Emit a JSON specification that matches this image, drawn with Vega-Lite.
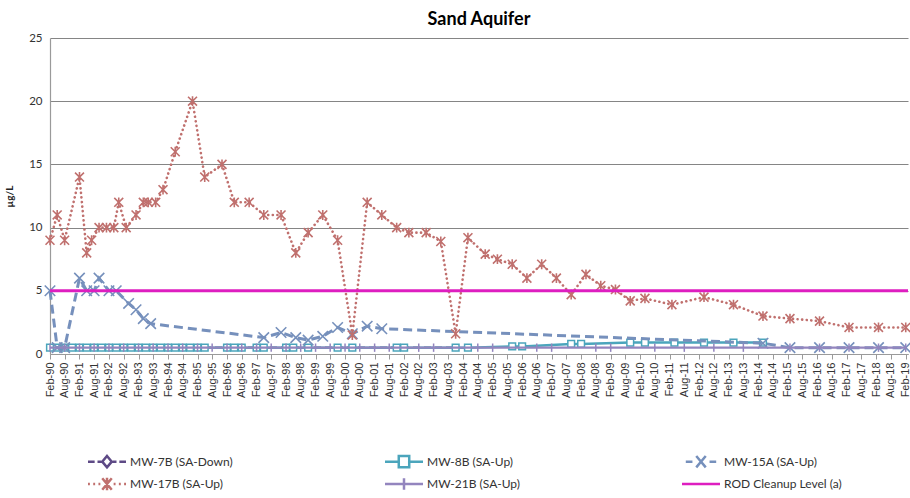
{
  "$schema": "https://vega.github.io/schema/vega-lite/v6.json",
  "autosize": {"type": "none"},
  "width": 858,
  "height": 316,
  "padding": {"left": 50, "top": 38, "right": 2, "bottom": 144},
  "background": "white",
  "title": {"text": "Sand Aquifer", "font": "Lato", "fontSize": 18, "fontWeight": "bold", "color": "#000000", "anchor": "middle", "frame": "group", "baseline": "alphabetic", "offset": 12, "dy": 23},
  "config": {"view": {"stroke": null}},
  "datasets": {
    "pts": [
      {"s": "MW-7B (SA-Down)", "d": "1990/02/01", "v": 0.5},
      {"s": "MW-7B (SA-Down)", "d": "1990/05/01", "v": 0.5},
      {"s": "MW-7B (SA-Down)", "d": "1990/08/01", "v": 0.5},
      {"s": "MW-7B (SA-Down)", "d": "2000/05/01", "v": 0.5},
      {"s": "MW-7B (SA-Down)", "d": "2003/11/01", "v": 0.5},

      {"s": "MW-8B (SA-Up)", "d": "1990/02/01", "v": 0.5},
      {"s": "MW-8B (SA-Up)", "d": "1990/05/01", "v": 0.5},
      {"s": "MW-8B (SA-Up)", "d": "1990/08/01", "v": 0.5},
      {"s": "MW-8B (SA-Up)", "d": "1990/11/01", "v": 0.5},
      {"s": "MW-8B (SA-Up)", "d": "1991/02/01", "v": 0.5},
      {"s": "MW-8B (SA-Up)", "d": "1991/05/01", "v": 0.5},
      {"s": "MW-8B (SA-Up)", "d": "1991/08/01", "v": 0.5},
      {"s": "MW-8B (SA-Up)", "d": "1991/11/01", "v": 0.5},
      {"s": "MW-8B (SA-Up)", "d": "1992/02/01", "v": 0.5},
      {"s": "MW-8B (SA-Up)", "d": "1992/05/01", "v": 0.5},
      {"s": "MW-8B (SA-Up)", "d": "1992/08/01", "v": 0.5},
      {"s": "MW-8B (SA-Up)", "d": "1992/11/01", "v": 0.5},
      {"s": "MW-8B (SA-Up)", "d": "1993/02/01", "v": 0.5},
      {"s": "MW-8B (SA-Up)", "d": "1993/05/01", "v": 0.5},
      {"s": "MW-8B (SA-Up)", "d": "1993/08/01", "v": 0.5},
      {"s": "MW-8B (SA-Up)", "d": "1993/11/01", "v": 0.5},
      {"s": "MW-8B (SA-Up)", "d": "1994/02/01", "v": 0.5},
      {"s": "MW-8B (SA-Up)", "d": "1994/05/01", "v": 0.5},
      {"s": "MW-8B (SA-Up)", "d": "1994/08/01", "v": 0.5},
      {"s": "MW-8B (SA-Up)", "d": "1994/11/01", "v": 0.5},
      {"s": "MW-8B (SA-Up)", "d": "1995/02/01", "v": 0.5},
      {"s": "MW-8B (SA-Up)", "d": "1995/05/01", "v": 0.5},
      {"s": "MW-8B (SA-Up)", "d": "1996/02/01", "v": 0.5},
      {"s": "MW-8B (SA-Up)", "d": "1996/05/01", "v": 0.5},
      {"s": "MW-8B (SA-Up)", "d": "1996/08/01", "v": 0.5},
      {"s": "MW-8B (SA-Up)", "d": "1997/02/01", "v": 0.5},
      {"s": "MW-8B (SA-Up)", "d": "1997/05/01", "v": 0.5},
      {"s": "MW-8B (SA-Up)", "d": "1998/02/01", "v": 0.5},
      {"s": "MW-8B (SA-Up)", "d": "1998/05/01", "v": 0.5},
      {"s": "MW-8B (SA-Up)", "d": "1998/11/01", "v": 0.5},
      {"s": "MW-8B (SA-Up)", "d": "1999/11/01", "v": 0.5},
      {"s": "MW-8B (SA-Up)", "d": "2000/05/01", "v": 0.5},
      {"s": "MW-8B (SA-Up)", "d": "2001/11/01", "v": 0.5},
      {"s": "MW-8B (SA-Up)", "d": "2002/02/01", "v": 0.5},
      {"s": "MW-8B (SA-Up)", "d": "2003/11/01", "v": 0.5},
      {"s": "MW-8B (SA-Up)", "d": "2004/04/01", "v": 0.5},
      {"s": "MW-8B (SA-Up)", "d": "2005/10/01", "v": 0.6},
      {"s": "MW-8B (SA-Up)", "d": "2006/02/01", "v": 0.6},
      {"s": "MW-8B (SA-Up)", "d": "2007/10/01", "v": 0.8},
      {"s": "MW-8B (SA-Up)", "d": "2008/02/01", "v": 0.8},
      {"s": "MW-8B (SA-Up)", "d": "2009/10/01", "v": 0.9},
      {"s": "MW-8B (SA-Up)", "d": "2010/04/01", "v": 0.9},
      {"s": "MW-8B (SA-Up)", "d": "2011/04/01", "v": 0.9},
      {"s": "MW-8B (SA-Up)", "d": "2012/04/01", "v": 0.9},
      {"s": "MW-8B (SA-Up)", "d": "2013/04/01", "v": 0.9},
      {"s": "MW-8B (SA-Up)", "d": "2014/04/01", "v": 0.9},

      {"s": "MW-15A (SA-Up)", "d": "1990/02/01", "v": 5},
      {"s": "MW-15A (SA-Up)", "d": "1990/05/01", "v": 0.5},
      {"s": "MW-15A (SA-Up)", "d": "1990/08/01", "v": 0.5},
      {"s": "MW-15A (SA-Up)", "d": "1991/02/01", "v": 6},
      {"s": "MW-15A (SA-Up)", "d": "1991/05/01", "v": 5},
      {"s": "MW-15A (SA-Up)", "d": "1991/08/01", "v": 5},
      {"s": "MW-15A (SA-Up)", "d": "1991/10/01", "v": 6},
      {"s": "MW-15A (SA-Up)", "d": "1992/02/01", "v": 5},
      {"s": "MW-15A (SA-Up)", "d": "1992/05/01", "v": 5},
      {"s": "MW-15A (SA-Up)", "d": "1992/10/01", "v": 4.0},
      {"s": "MW-15A (SA-Up)", "d": "1993/01/01", "v": 3.5},
      {"s": "MW-15A (SA-Up)", "d": "1993/04/01", "v": 2.8},
      {"s": "MW-15A (SA-Up)", "d": "1993/07/01", "v": 2.4},
      {"s": "MW-15A (SA-Up)", "d": "1997/05/01", "v": 1.3},
      {"s": "MW-15A (SA-Up)", "d": "1997/12/01", "v": 1.7},
      {"s": "MW-15A (SA-Up)", "d": "1998/06/01", "v": 1.3},
      {"s": "MW-15A (SA-Up)", "d": "1998/11/01", "v": 1.1},
      {"s": "MW-15A (SA-Up)", "d": "1999/05/01", "v": 1.4},
      {"s": "MW-15A (SA-Up)", "d": "1999/11/01", "v": 2.1},
      {"s": "MW-15A (SA-Up)", "d": "2000/05/01", "v": 1.6},
      {"s": "MW-15A (SA-Up)", "d": "2000/11/01", "v": 2.2},
      {"s": "MW-15A (SA-Up)", "d": "2001/05/01", "v": 2.0},
      {"s": "MW-15A (SA-Up)", "d": "2014/04/01", "v": 0.85},
      {"s": "MW-15A (SA-Up)", "d": "2015/03/01", "v": 0.5},
      {"s": "MW-15A (SA-Up)", "d": "2016/03/01", "v": 0.5},
      {"s": "MW-15A (SA-Up)", "d": "2017/03/01", "v": 0.5},
      {"s": "MW-15A (SA-Up)", "d": "2018/03/01", "v": 0.5},
      {"s": "MW-15A (SA-Up)", "d": "2019/02/01", "v": 0.5},

      {"s": "MW-17B (SA-Up)", "d": "1990/02/01", "v": 9},
      {"s": "MW-17B (SA-Up)", "d": "1990/05/01", "v": 11},
      {"s": "MW-17B (SA-Up)", "d": "1990/08/01", "v": 9},
      {"s": "MW-17B (SA-Up)", "d": "1991/02/01", "v": 14},
      {"s": "MW-17B (SA-Up)", "d": "1991/05/01", "v": 8},
      {"s": "MW-17B (SA-Up)", "d": "1991/07/01", "v": 9},
      {"s": "MW-17B (SA-Up)", "d": "1991/10/01", "v": 10},
      {"s": "MW-17B (SA-Up)", "d": "1992/01/01", "v": 10},
      {"s": "MW-17B (SA-Up)", "d": "1992/04/01", "v": 10},
      {"s": "MW-17B (SA-Up)", "d": "1992/06/01", "v": 12},
      {"s": "MW-17B (SA-Up)", "d": "1992/09/01", "v": 10},
      {"s": "MW-17B (SA-Up)", "d": "1993/01/01", "v": 11},
      {"s": "MW-17B (SA-Up)", "d": "1993/04/01", "v": 12},
      {"s": "MW-17B (SA-Up)", "d": "1993/06/01", "v": 12},
      {"s": "MW-17B (SA-Up)", "d": "1993/09/01", "v": 12},
      {"s": "MW-17B (SA-Up)", "d": "1993/12/01", "v": 13},
      {"s": "MW-17B (SA-Up)", "d": "1994/05/01", "v": 16},
      {"s": "MW-17B (SA-Up)", "d": "1994/12/01", "v": 20},
      {"s": "MW-17B (SA-Up)", "d": "1995/05/01", "v": 14},
      {"s": "MW-17B (SA-Up)", "d": "1995/12/01", "v": 15},
      {"s": "MW-17B (SA-Up)", "d": "1996/05/01", "v": 12},
      {"s": "MW-17B (SA-Up)", "d": "1996/11/01", "v": 12},
      {"s": "MW-17B (SA-Up)", "d": "1997/05/01", "v": 11},
      {"s": "MW-17B (SA-Up)", "d": "1997/12/01", "v": 11},
      {"s": "MW-17B (SA-Up)", "d": "1998/06/01", "v": 8},
      {"s": "MW-17B (SA-Up)", "d": "1998/11/01", "v": 9.6},
      {"s": "MW-17B (SA-Up)", "d": "1999/05/01", "v": 11},
      {"s": "MW-17B (SA-Up)", "d": "1999/11/01", "v": 9},
      {"s": "MW-17B (SA-Up)", "d": "2000/05/01", "v": 1.5},
      {"s": "MW-17B (SA-Up)", "d": "2000/11/01", "v": 12},
      {"s": "MW-17B (SA-Up)", "d": "2001/05/01", "v": 11},
      {"s": "MW-17B (SA-Up)", "d": "2001/11/01", "v": 10},
      {"s": "MW-17B (SA-Up)", "d": "2002/04/01", "v": 9.6},
      {"s": "MW-17B (SA-Up)", "d": "2002/11/01", "v": 9.6},
      {"s": "MW-17B (SA-Up)", "d": "2003/05/01", "v": 8.9},
      {"s": "MW-17B (SA-Up)", "d": "2003/11/01", "v": 1.6},
      {"s": "MW-17B (SA-Up)", "d": "2004/04/01", "v": 9.2},
      {"s": "MW-17B (SA-Up)", "d": "2004/11/01", "v": 7.9},
      {"s": "MW-17B (SA-Up)", "d": "2005/04/01", "v": 7.5},
      {"s": "MW-17B (SA-Up)", "d": "2005/10/01", "v": 7.1},
      {"s": "MW-17B (SA-Up)", "d": "2006/04/01", "v": 6},
      {"s": "MW-17B (SA-Up)", "d": "2006/10/01", "v": 7.1},
      {"s": "MW-17B (SA-Up)", "d": "2007/04/01", "v": 6},
      {"s": "MW-17B (SA-Up)", "d": "2007/10/01", "v": 4.7},
      {"s": "MW-17B (SA-Up)", "d": "2008/04/01", "v": 6.3},
      {"s": "MW-17B (SA-Up)", "d": "2008/10/01", "v": 5.4},
      {"s": "MW-17B (SA-Up)", "d": "2009/04/01", "v": 5.1},
      {"s": "MW-17B (SA-Up)", "d": "2009/10/01", "v": 4.2},
      {"s": "MW-17B (SA-Up)", "d": "2010/04/01", "v": 4.4},
      {"s": "MW-17B (SA-Up)", "d": "2011/03/01", "v": 3.9},
      {"s": "MW-17B (SA-Up)", "d": "2012/04/01", "v": 4.5},
      {"s": "MW-17B (SA-Up)", "d": "2013/04/01", "v": 3.9},
      {"s": "MW-17B (SA-Up)", "d": "2014/04/01", "v": 3.0},
      {"s": "MW-17B (SA-Up)", "d": "2015/03/01", "v": 2.8},
      {"s": "MW-17B (SA-Up)", "d": "2016/03/01", "v": 2.6},
      {"s": "MW-17B (SA-Up)", "d": "2017/03/01", "v": 2.1},
      {"s": "MW-17B (SA-Up)", "d": "2018/03/01", "v": 2.1},
      {"s": "MW-17B (SA-Up)", "d": "2019/02/01", "v": 2.1},

      {"s": "MW-21B (SA-Up)", "d": "1990/02/01", "v": 0.5},
      {"s": "MW-21B (SA-Up)", "d": "1990/08/01", "v": 0.5},
      {"s": "MW-21B (SA-Up)", "d": "1991/02/01", "v": 0.5},
      {"s": "MW-21B (SA-Up)", "d": "1991/08/01", "v": 0.5},
      {"s": "MW-21B (SA-Up)", "d": "1992/02/01", "v": 0.5},
      {"s": "MW-21B (SA-Up)", "d": "1992/08/01", "v": 0.5},
      {"s": "MW-21B (SA-Up)", "d": "1993/02/01", "v": 0.5},
      {"s": "MW-21B (SA-Up)", "d": "1993/08/01", "v": 0.5},
      {"s": "MW-21B (SA-Up)", "d": "1994/02/01", "v": 0.5},
      {"s": "MW-21B (SA-Up)", "d": "1994/08/01", "v": 0.5},
      {"s": "MW-21B (SA-Up)", "d": "1995/02/01", "v": 0.5},
      {"s": "MW-21B (SA-Up)", "d": "1995/08/01", "v": 0.5},
      {"s": "MW-21B (SA-Up)", "d": "1996/02/01", "v": 0.5},
      {"s": "MW-21B (SA-Up)", "d": "1996/08/01", "v": 0.5},
      {"s": "MW-21B (SA-Up)", "d": "1997/02/01", "v": 0.5},
      {"s": "MW-21B (SA-Up)", "d": "1997/08/01", "v": 0.5},
      {"s": "MW-21B (SA-Up)", "d": "1998/02/01", "v": 0.5},
      {"s": "MW-21B (SA-Up)", "d": "1998/08/01", "v": 0.5},
      {"s": "MW-21B (SA-Up)", "d": "1999/02/01", "v": 0.5},
      {"s": "MW-21B (SA-Up)", "d": "1999/08/01", "v": 0.5},
      {"s": "MW-21B (SA-Up)", "d": "2000/02/01", "v": 0.5},
      {"s": "MW-21B (SA-Up)", "d": "2000/08/01", "v": 0.5},
      {"s": "MW-21B (SA-Up)", "d": "2001/02/01", "v": 0.5},
      {"s": "MW-21B (SA-Up)", "d": "2001/08/01", "v": 0.5},
      {"s": "MW-21B (SA-Up)", "d": "2002/08/01", "v": 0.5},
      {"s": "MW-21B (SA-Up)", "d": "2003/02/01", "v": 0.5},
      {"s": "MW-21B (SA-Up)", "d": "2004/08/01", "v": 0.5},
      {"s": "MW-21B (SA-Up)", "d": "2005/02/01", "v": 0.5},
      {"s": "MW-21B (SA-Up)", "d": "2006/08/01", "v": 0.5},
      {"s": "MW-21B (SA-Up)", "d": "2007/02/01", "v": 0.5},
      {"s": "MW-21B (SA-Up)", "d": "2008/08/01", "v": 0.5},
      {"s": "MW-21B (SA-Up)", "d": "2009/02/01", "v": 0.5},
      {"s": "MW-21B (SA-Up)", "d": "2010/08/01", "v": 0.5},
      {"s": "MW-21B (SA-Up)", "d": "2011/08/01", "v": 0.5},
      {"s": "MW-21B (SA-Up)", "d": "2012/08/01", "v": 0.5},
      {"s": "MW-21B (SA-Up)", "d": "2013/08/01", "v": 0.5},
      {"s": "MW-21B (SA-Up)", "d": "2015/03/01", "v": 0.5},
      {"s": "MW-21B (SA-Up)", "d": "2016/03/01", "v": 0.5},
      {"s": "MW-21B (SA-Up)", "d": "2017/03/01", "v": 0.5},
      {"s": "MW-21B (SA-Up)", "d": "2018/03/01", "v": 0.5},
      {"s": "MW-21B (SA-Up)", "d": "2019/02/01", "v": 0.5},

      {"s": "ROD Cleanup Level (a)", "d": "1990/02/01", "v": 5},
      {"s": "ROD Cleanup Level (a)", "d": "2019/03/01", "v": 5}
    ]
  },
  "data": {"name": "pts"},
  "encoding": {
    "x": {
      "field": "d", "type": "temporal",
      "scale": {"domain": [{"year": 1990, "month": 2, "date": 1}, {"year": 2019, "month": 3, "date": 1}]},
      "axis": {
        "title": null, "format": "%b-%y", "labelAngle": 270, "labelFont": "Liberation Sans", "labelFontSize": 11, "labelColor": "#333333",
        "labelPadding": 3, "labelOverlap": false, "labelFlush": false, "labelBound": false,
        "grid": false, "domainColor": "#9a9a9a", "domainWidth": 1.2, "tickColor": "#9a9a9a", "tickSize": 5,
        "values": [
          {"year": 1990, "month": 2, "date": 1}, {"year": 1990, "month": 8, "date": 1},
          {"year": 1991, "month": 2, "date": 1}, {"year": 1991, "month": 8, "date": 1},
          {"year": 1992, "month": 2, "date": 1}, {"year": 1992, "month": 8, "date": 1},
          {"year": 1993, "month": 2, "date": 1}, {"year": 1993, "month": 8, "date": 1},
          {"year": 1994, "month": 2, "date": 1}, {"year": 1994, "month": 8, "date": 1},
          {"year": 1995, "month": 2, "date": 1}, {"year": 1995, "month": 8, "date": 1},
          {"year": 1996, "month": 2, "date": 1}, {"year": 1996, "month": 8, "date": 1},
          {"year": 1997, "month": 2, "date": 1}, {"year": 1997, "month": 8, "date": 1},
          {"year": 1998, "month": 2, "date": 1}, {"year": 1998, "month": 8, "date": 1},
          {"year": 1999, "month": 2, "date": 1}, {"year": 1999, "month": 8, "date": 1},
          {"year": 2000, "month": 2, "date": 1}, {"year": 2000, "month": 8, "date": 1},
          {"year": 2001, "month": 2, "date": 1}, {"year": 2001, "month": 8, "date": 1},
          {"year": 2002, "month": 2, "date": 1}, {"year": 2002, "month": 8, "date": 1},
          {"year": 2003, "month": 2, "date": 1}, {"year": 2003, "month": 8, "date": 1},
          {"year": 2004, "month": 2, "date": 1}, {"year": 2004, "month": 8, "date": 1},
          {"year": 2005, "month": 2, "date": 1}, {"year": 2005, "month": 8, "date": 1},
          {"year": 2006, "month": 2, "date": 1}, {"year": 2006, "month": 8, "date": 1},
          {"year": 2007, "month": 2, "date": 1}, {"year": 2007, "month": 8, "date": 1},
          {"year": 2008, "month": 2, "date": 1}, {"year": 2008, "month": 8, "date": 1},
          {"year": 2009, "month": 2, "date": 1}, {"year": 2009, "month": 8, "date": 1},
          {"year": 2010, "month": 2, "date": 1}, {"year": 2010, "month": 8, "date": 1},
          {"year": 2011, "month": 2, "date": 1}, {"year": 2011, "month": 8, "date": 1},
          {"year": 2012, "month": 2, "date": 1}, {"year": 2012, "month": 8, "date": 1},
          {"year": 2013, "month": 2, "date": 1}, {"year": 2013, "month": 8, "date": 1},
          {"year": 2014, "month": 2, "date": 1}, {"year": 2014, "month": 8, "date": 1},
          {"year": 2015, "month": 2, "date": 1}, {"year": 2015, "month": 8, "date": 1},
          {"year": 2016, "month": 2, "date": 1}, {"year": 2016, "month": 8, "date": 1},
          {"year": 2017, "month": 2, "date": 1}, {"year": 2017, "month": 8, "date": 1},
          {"year": 2018, "month": 2, "date": 1}, {"year": 2018, "month": 8, "date": 1},
          {"year": 2019, "month": 2, "date": 1}
        ]
      }
    },
    "y": {
      "field": "v", "type": "quantitative",
      "scale": {"domain": [0, 25], "nice": false},
      "axis": {
        "title": "µg/L", "titleFont": "Lato", "titleFontSize": 10, "titleFontWeight": "bold", "titleColor": "#222222", "titlePadding": 14,
        "values": [0, 5, 10, 15, 20, 25], "labelFont": "Lato", "labelFontSize": 11.5, "labelColor": "#333333", "labelPadding": 8,
        "grid": true, "gridColor": "#858585", "gridWidth": 1.2, "domainColor": "#9a9a9a", "domainWidth": 1.2,
        "ticks": false
      }
    }
  },
  "layer": [
    {
      "transform": [{"filter": "datum.s === 'MW-7B (SA-Down)'"}],
      "mark": {"type": "line", "color": "#5E4A86", "strokeWidth": 2.5, "strokeDash": [7, 4]}
    },
    {
      "transform": [{"filter": "datum.s === 'MW-7B (SA-Down)'"}],
      "mark": {"type": "point", "shape": "diamond", "size": 50, "filled": true, "color": "#5E4A86", "opacity": 1}
    },
    {
      "transform": [{"filter": "datum.s === 'MW-8B (SA-Up)'"}],
      "mark": {"type": "line", "color": "#4BA5BC", "strokeWidth": 2.5}
    },
    {
      "transform": [{"filter": "datum.s === 'MW-8B (SA-Up)'"}],
      "mark": {"type": "point", "shape": "square", "size": 45, "filled": false, "fill": "white", "fillOpacity": 1, "stroke": "#4BA5BC", "strokeWidth": 1.5, "opacity": 1}
    },
    {
      "transform": [{"filter": "datum.s === 'MW-15A (SA-Up)'"}],
      "mark": {"type": "line", "color": "#7690BC", "strokeWidth": 3, "strokeDash": [9, 5]}
    },
    {
      "transform": [{"filter": "datum.s === 'MW-15A (SA-Up)'"}],
      "mark": {"type": "point", "shape": "M-1,-1L1,1M-1,1L1,-1", "size": 110, "filled": false, "stroke": "#7690BC", "strokeWidth": 1.6, "opacity": 1}
    },
    {
      "transform": [{"filter": "datum.s === 'MW-17B (SA-Up)'"}],
      "mark": {"type": "line", "color": "#C0706E", "strokeWidth": 2.6, "strokeDash": [0.1, 4.5], "strokeCap": "round"}
    },
    {
      "transform": [{"filter": "datum.s === 'MW-17B (SA-Up)'"}],
      "mark": {"type": "point", "shape": "M-1,-1L1,1M-1,1L1,-1M0,-1.1V1.1", "size": 80, "filled": false, "stroke": "#C0706E", "strokeWidth": 1.6, "opacity": 1}
    },
    {
      "transform": [{"filter": "datum.s === 'MW-21B (SA-Up)'"}],
      "mark": {"type": "line", "color": "#9385BE", "strokeWidth": 2.2}
    },
    {
      "transform": [{"filter": "datum.s === 'MW-21B (SA-Up)'"}],
      "mark": {"type": "point", "shape": "M0,-1V1", "size": 70, "filled": false, "stroke": "#9385BE", "strokeWidth": 1.5, "opacity": 1}
    },
    {
      "transform": [{"filter": "datum.s === 'ROD Cleanup Level (a)'"}],
      "mark": {"type": "line", "color": "#DE1EC0", "strokeWidth": 3}
    },
    {
      "transform": [{"filter": "false"}],
      "mark": {"type": "point", "filled": false, "opacity": 1},
      "encoding": {
        "color": {
          "field": "s", "type": "nominal",
          "scale": {
            "domain": ["MW-7B (SA-Down)", "MW-8B (SA-Up)", "MW-15A (SA-Up)", "MW-17B (SA-Up)", "MW-21B (SA-Up)", "ROD Cleanup Level (a)"],
            "range": ["#5E4A86", "#4BA5BC", "#7690BC", "#C0706E", "#9385BE", "#DE1EC0"]
          },
          "legend": {
            "title": null, "orient": "none", "legendX": 46, "legendY": 412, "direction": "horizontal", "columns": 3,
            "gridAlign": "all", "columnPadding": 132, "rowPadding": -1,
            "symbolSize": 361, "symbolStrokeWidth": 2.5, "labelOffset": 12,
            "labelFont": "Lato", "labelFontSize": 12, "labelColor": "#333333", "labelLimit": 300
          }
        },
        "shape": {
          "field": "s", "type": "nominal",
          "scale": {
            "domain": ["MW-7B (SA-Down)", "MW-8B (SA-Up)", "MW-15A (SA-Up)", "MW-17B (SA-Up)", "MW-21B (SA-Up)", "ROD Cleanup Level (a)"],
            "range": [
              "M-2,0H-1.3M-1,0H-0.6M0.6,0H1M1.3,0H2M0,-0.6L0.5,0L0,0.6L-0.5,0Z",
              "M-2,0H-0.55M0.55,0H2M-0.55,-0.6H0.55V0.6H-0.55Z",
              "M-1.6,0H-0.9M0.9,0H1.6M-0.5,-0.6L0.5,0.6M-0.5,0.6L0.5,-0.6",
              "M-2,0H-1.8M-1.45,0H-1.25M-0.9,0H-0.7M0.7,0H0.9M1.25,0H1.45M1.8,0H2M-0.5,-0.6L0.5,0.6M-0.5,0.6L0.5,-0.6M0,-0.65V0.65",
              "M-2,0H2M0,-0.6V0.6",
              "M-2,0H2"
            ]
          },
          "legend": {"title": null}
        }
      }
    }
  ]
}
